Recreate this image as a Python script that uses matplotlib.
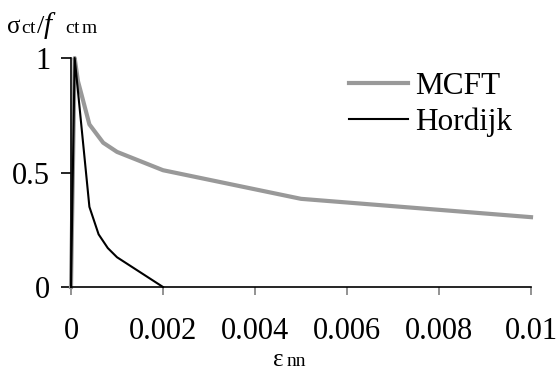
import matplotlib
matplotlib.use("Agg")
import matplotlib.pyplot as plt

plt.rcParams['font.family'] = ['Liberation Serif', 'DejaVu Serif']

# Data
mcft_strain = [0.0, 0.00008, 0.00015, 0.0004, 0.0007, 0.001, 0.002, 0.005, 0.01]
mcft_stress = [0.0, 1.0, 0.90, 0.71, 0.63, 0.59, 0.51, 0.385, 0.305]
hord_strain = [0.0, 0.00008, 0.0004, 0.0006, 0.0008, 0.001, 0.002]
hord_stress = [0.0, 1.0, 0.35, 0.23, 0.17, 0.13, 0.0]
xticks = [0, 0.002, 0.004, 0.006, 0.008, 0.01]
xticklabels = ['0', '0.002', '0.004', '0.006', '0.008', '0.01']
yticks = [0, 0.5, 1]
yticklabels = ['0', '0.5', '1']

W, H = 557, 372
fig = plt.figure(figsize=(W / 100, H / 100), dpi=100)
x0, x1, y0, y1 = 71, 531, 287, 58
ax = fig.add_axes([x0 / W, 1 - y0 / H, (x1 - x0) / W, (y0 - y1) / H])
ax.plot(mcft_strain, mcft_stress, color='#999999', lw=3.0, label='MCFT', clip_on=False,
        solid_joinstyle='round')
ax.plot(hord_strain, hord_stress, color='black', lw=1.5, label='Hordijk', clip_on=False)
ax.set_xlim(0, 0.01)
ax.set_ylim(0, 1)
for s in ['top', 'right']:
    ax.spines[s].set_visible(False)
for s in ['left', 'bottom']:
    ax.spines[s].set_linewidth(1.2)
ax.set_xticks(xticks)
ax.set_xticklabels(xticklabels)
ax.set_yticks(yticks)
ax.set_yticklabels(yticklabels)
ax.tick_params(axis='x', direction='out', length=6, width=1.2, color='#808080', pad=15.5, labelsize=22)
ax.tick_params(axis='y', direction='out', length=7, width=1.2, color='black', pad=8, labelsize=22)

leg = ax.legend(loc='upper left', bbox_to_anchor=(349 / W, 1 - 72 / H), bbox_transform=fig.transFigure,
                frameon=False, fontsize=22.5, handlelength=1.9, handletextpad=0.22,
                labelspacing=0.2, borderaxespad=0, borderpad=0)

# y label pieces (baseline at y=33 px from top)
yb = 1 - 33 / H
fig.text(7 / W, yb, 'σ', fontsize=18, va='baseline', ha='left')
fig.text(21 / W, yb, 'c', fontsize=14, va='baseline', ha='left')
fig.text(30 / W, yb, 't', fontsize=14, va='baseline', ha='left')
fig.text(37 / W, yb, '/', fontsize=19, va='baseline', ha='left')
fig.text(44 / W, yb, 'f', fontsize=21, style='italic', va='baseline', ha='left')
fig.text(65 / W, yb, 'c', fontsize=14, va='baseline', ha='left')
fig.text(74 / W, yb, 't', fontsize=14, va='baseline', ha='left')
fig.text(82 / W, yb, 'm', fontsize=14, va='baseline', ha='left')

# x label
xb = 1 - 366 / H
fig.text(273 / W, xb, 'ε', fontsize=18, va='baseline', ha='left')
fig.text(287 / W, xb, 'nn', fontsize=14, va='baseline', ha='left')

fig.savefig('out.png', dpi=100)
